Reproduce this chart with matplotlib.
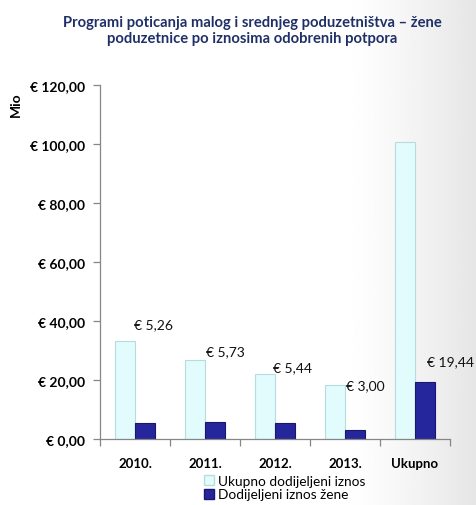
import numpy as np
import matplotlib
matplotlib.use("Agg")
import matplotlib.pyplot as plt
import matplotlib.patches as mpatches

# data (millions of euro)
categories = ['2010.', '2011.', '2012.', '2013.', 'Ukupno']
total_amount = [33.3, 26.9, 22.0, 18.4, 100.6]
women_amount = [5.26, 5.73, 5.44, 3.00, 19.44]
women_labels = ['€ 5,26', '€ 5,73', '€ 5,44', '€ 3,00', '€ 19,44']

# label placement (offset from category centre, height in data units)
label_dx = [0.26, 0.29, 0.25, 0.29, 0.5]
label_y = [39.0, 29.8, 24.4, 18.3, 26.4]

plt.rcParams['font.family'] = ['Lato', 'DejaVu Sans']

fig = plt.figure(figsize=(4.76, 5.06), dpi=100)

# background gradient (white -> light grey on the right)
bg = fig.add_axes([0, 0, 1, 1], zorder=-10)
xs = np.linspace(0, 1, 300)
shade = np.clip((xs - 0.72) / 0.28, 0, 1) ** 1.3
grad = np.tile(1 - 0.1 * shade, (10, 1))
bg.imshow(grad, cmap='gray', vmin=0, vmax=1, aspect='auto', extent=[0, 1, 0, 1])
bg.axis('off')

ax = fig.add_axes([100/476, 1 - 440/506, 350/476, 354/506])
ax.patch.set_alpha(0)

x = np.arange(len(categories))
w = 0.29
light = ax.bar(x - 0.145, total_amount, w, color='#E2FBFD', edgecolor='#B5DDE0', linewidth=0.8)
dark = ax.bar(x + 0.14, women_amount, w, color='#26269C', edgecolor='#17176E', linewidth=0.8)

for i, lab in enumerate(women_labels):
    ax.text(x[i] + label_dx[i], label_y[i], lab, ha='center', va='center',
            fontsize=10, color='#111111', clip_on=False)

ax.set_xlim(-0.5, len(categories) - 0.5)
ax.set_ylim(0, 120)
yt = np.arange(0, 121, 20)
ax.set_yticks(yt)
ax.set_yticklabels(['€ ' + f'{v:.2f}'.replace('.', ',') for v in yt],
                   fontsize=10, fontweight='bold')
ax.set_xticks(x)
ax.set_xticklabels(categories, fontsize=9.5, fontweight='bold')
ax.set_xticks(np.arange(-0.5, len(categories)), minor=True)
ax.tick_params(axis='x', which='major', length=0, pad=13)
ax.tick_params(axis='x', which='minor', length=5, color='#868686', width=0.9)
ax.tick_params(axis='y', length=5, color='#868686', width=0.9, pad=6)

for s in ['top', 'right']:
    ax.spines[s].set_visible(False)
for s in ['left', 'bottom']:
    ax.spines[s].set_color('#868686')
    ax.spines[s].set_linewidth(0.9)

fig.text(252/476, 1 - 31/506,
         'Programi poticanja malog i srednjeg poduzetništva – žene\npoduzetnice po iznosima odobrenih potpora',
         ha='center', va='center', fontsize=10.6, fontweight='bold', color='#1F3068',
         linespacing=1.25)

fig.text(16/476, 1 - 105/506, 'Mio', rotation=90, ha='center', va='center',
         fontsize=10, fontweight='bold')

h1 = mpatches.Patch(facecolor='#E2FBFD', edgecolor='#B5DDE0', label='Ukupno dodijeljeni iznos')
h2 = mpatches.Patch(facecolor='#26269C', edgecolor='#17176E', label='Dodijeljeni iznos žene')
fig.legend(handles=[h1, h2], loc='upper left', bbox_to_anchor=(204/476, 1 - 476/506),
           frameon=False, fontsize=9.8, handlelength=0.75, handleheight=0.75,
           handletextpad=0.3, labelspacing=0.1, borderpad=0, borderaxespad=0)

fig.savefig('out.png', dpi=100)
